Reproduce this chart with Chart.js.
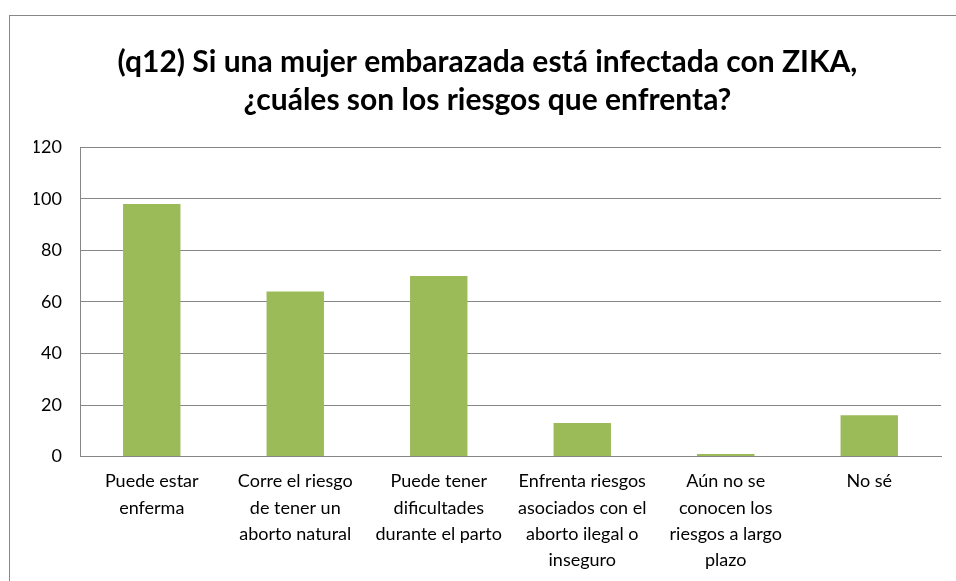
<!DOCTYPE html>
<html>
<head>
<meta charset="utf-8">
<script src="https://cdn.jsdelivr.net/npm/chart.js@4"></script>
<style>
  html, body { margin: 0; padding: 0; background: #fff; overflow: hidden; }
  #wrap { position: relative; width: 956px; height: 581px; }
  #frame { position: absolute; left: 9px; top: 15px; width: 1000px; height: 700px; border: 1px solid #878787; }
  canvas { position: absolute; left: 0; top: 0; }
</style>
</head>
<body>
<div id="wrap">
  <div id="frame"></div>
  <canvas id="chart" width="956" height="581"></canvas>
</div>
<script>
// DATA
const categories = [
    ["Puede estar", "enferma"],
    ["Corre el riesgo", "de tener un", "aborto natural"],
    ["Puede tener", "dificultades", "durante el parto"],
    ["Enfrenta riesgos", "asociados con el", "aborto ilegal o", "inseguro"],
    ["Aún no se", "conocen los", "riesgos a largo", "plazo"],
    ["No sé"]
];
const values = [98, 64, 70, 13, 1, 16];
const titleLines = [
    "(q12) Si una mujer embarazada está infectada con ZIKA,",
    "¿cuáles son los riesgos que enfrenta?"
];

const GRID = "#868686";
const FONT = "Lato, 'Open Sans', sans-serif";

new Chart(document.getElementById("chart"), {
    type: "bar",
    data: {
        labels: categories,
        datasets: [{
            data: values,
            backgroundColor: "#9BBB59",
            categoryPercentage: 1,
            barPercentage: 0.4
        }]
    },
    options: {
        responsive: false,
        animation: false,
        layout: { padding: { left: 34, right: 15, top: 0, bottom: -4 } },
        plugins: {
            legend: { display: false },
            tooltip: { enabled: false },
            title: {
                display: true,
                text: titleLines,
                color: "#000",
                font: { family: FONT, size: 30, weight: "bold", lineHeight: 1.27 },
                padding: { top: 43, bottom: 28 }
            }
        },
        scales: {
            x: {
                grid: { display: false, drawTicks: false },
                border: { display: true, color: GRID, width: 1 },
                ticks: {
                    color: "#000",
                    font: { family: FONT, size: 18, lineHeight: 1.45 },
                    padding: 12,
                    maxRotation: 0,
                    autoSkip: false
                }
            },
            y: {
                min: 0,
                max: 120,
                afterFit: s => { s.width = 46; },
                grid: { color: GRID, drawTicks: false },
                border: { display: true, color: GRID },
                ticks: {
                    stepSize: 20,
                    color: "#000",
                    font: { family: FONT, size: 18 },
                    padding: 18
                }
            }
        }
    }
});
</script>
</body>
</html>
